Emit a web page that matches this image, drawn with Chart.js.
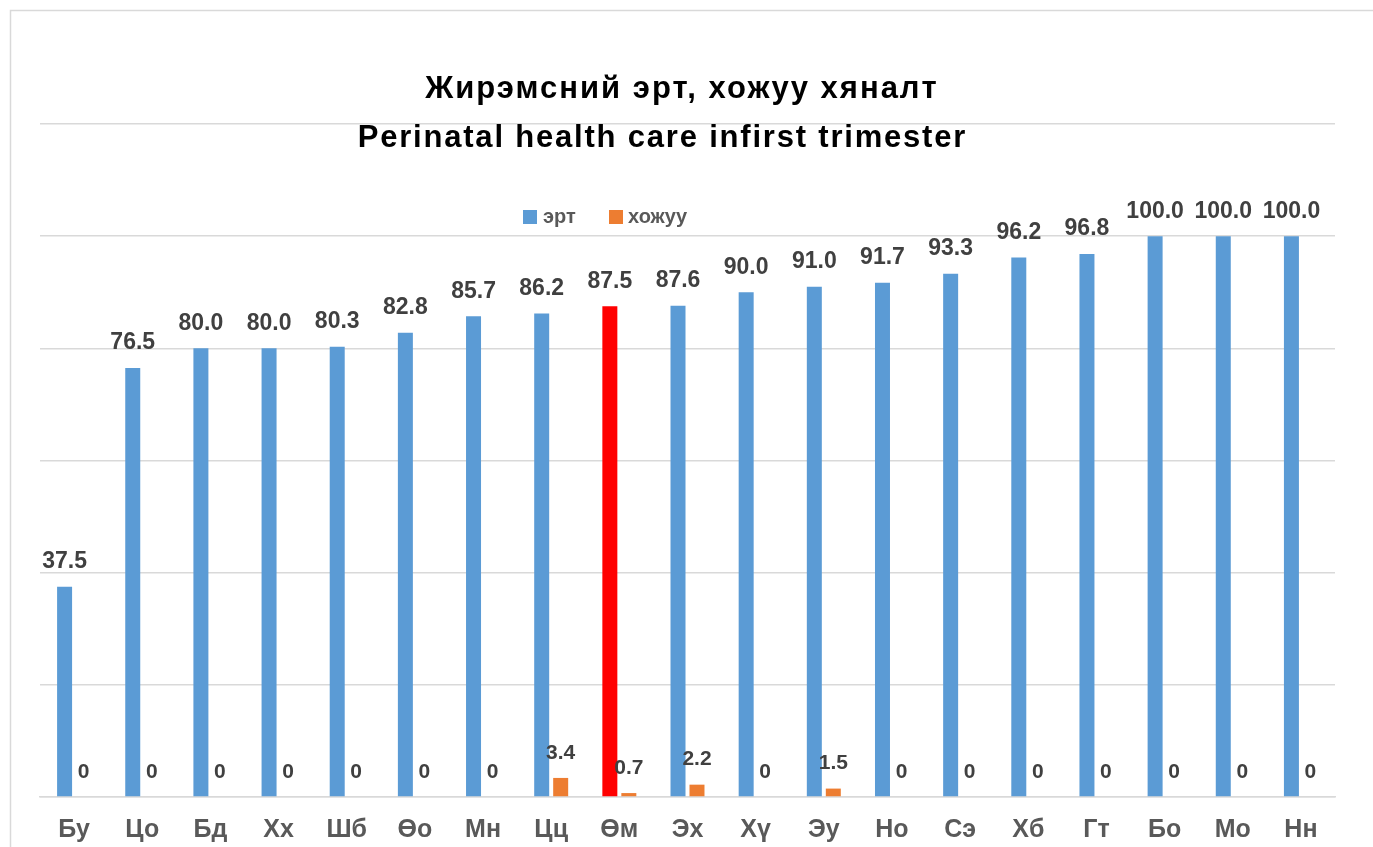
<!DOCTYPE html>
<html>
<head>
<meta charset="utf-8">
<script src="https://cdn.jsdelivr.net/npm/chart.js@4.4.1/dist/chart.umd.min.js"></script>
<style>
html,body{margin:0;padding:0;background:#fff;}
#wrap{position:absolute;left:0;top:0;width:1373px;height:847px;}
</style>
</head>
<body>
<div id="wrap"><canvas id="c" width="1373" height="847"></canvas></div>
<script>
const categories = ["Бу","Цо","Бд","Хх","Шб","Өо","Мн","Цц","Өм","Эх","Хү","Эу","Но","Сэ","Хб","Гт","Бо","Мо","Нн"];
const earlyValues = [37.5,76.5,80.0,80.0,80.3,82.8,85.7,86.2,87.5,87.6,90.0,91.0,91.7,93.3,96.2,96.8,100.0,100.0,100.0];
const lateValues = [0,0,0,0,0,0,0,3.4,0.7,2.2,0,1.5,0,0,0,0,0,0,0];
const seriesNames = ["эрт","хожуу"];
const titleLines = ["Жирэмсний эрт, хожуу хяналт","Perinatal health care infirst trimester"];
const highlightCategory = "Өм";

const BLUE = "#5b9bd5", ORANGE = "#ed7d31", RED = "#ff0000";
const FONT = "'Liberation Sans', Arial, sans-serif";

const earlyColors = categories.map(c => c === highlightCategory ? RED : BLUE);

const decor = {
  id: 'decor',
  beforeDraw(chart) {
    const ctx = chart.ctx;
    ctx.save();
    ctx.fillStyle = '#fff';
    ctx.fillRect(0, 0, chart.width, chart.height);
    ctx.strokeStyle = '#d9d9d9';
    ctx.lineWidth = 1.5;
    ctx.strokeRect(10.5, 10.5, 1400, 900);
    ctx.restore();
  },
  afterDraw(chart) {
    const ctx = chart.ctx;
    ctx.save();
    // title
    ctx.fillStyle = '#000';
    ctx.textAlign = 'left';
    ctx.textBaseline = 'alphabetic';
    ctx.font = "bold 31px " + FONT;
    ctx.letterSpacing = '2px';
    let w = ctx.measureText(titleLines[0]).width - 2;
    ctx.fillText(titleLines[0], 681 - w / 2, 98);
    ctx.letterSpacing = '1.8px';
    w = ctx.measureText(titleLines[1]).width - 1.8;
    ctx.fillText(titleLines[1], 661.5 - w / 2, 147);
    ctx.letterSpacing = '0px';
    // legend
    ctx.font = "bold 20px " + FONT;
    ctx.textAlign = 'left';
    ctx.textBaseline = 'middle';
    ctx.fillStyle = BLUE;
    ctx.fillRect(523, 210, 14, 14);
    ctx.fillStyle = '#595959';
    ctx.fillText(seriesNames[0], 543, 217);
    ctx.fillStyle = ORANGE;
    ctx.fillRect(609, 210, 14, 14);
    ctx.fillStyle = '#595959';
    ctx.fillText(seriesNames[1], 628, 217);
    // data labels
    ctx.textAlign = 'center';
    ctx.textBaseline = 'middle';
    ctx.fillStyle = '#404040';
    chart.data.datasets.forEach((ds, di) => {
      const meta = chart.getDatasetMeta(di);
      ctx.font = (di === 0 ? "bold 23px " : "bold 21px ") + FONT;
      meta.data.forEach((bar, i) => {
        const v = ds.data[i];
        const txt = di === 0 ? v.toFixed(1) : (v === 0 ? "0" : v.toFixed(1));
        ctx.fillText(txt, bar.x, bar.y - 25);
      });
    });
    ctx.restore();
  }
};

new Chart(document.getElementById('c'), {
  type: 'bar',
  data: {
    labels: categories,
    datasets: [
      { label: seriesNames[0], data: earlyValues, backgroundColor: earlyColors, barPercentage: 0.79, categoryPercentage: 0.557 },
      { label: seriesNames[1], data: lateValues, backgroundColor: ORANGE, barPercentage: 0.79, categoryPercentage: 0.557 }
    ]
  },
  options: {
    responsive: false,
    animation: false,
    devicePixelRatio: 1,
    layout: { padding: { top: 124, left: 40, right: 38, bottom: 0 } },
    plugins: { legend: { display: false }, title: { display: false }, tooltip: { enabled: false } },
    scales: {
      x: {
        afterFit(axis) { axis.height = 50; },
        grid: { display: false, drawTicks: false },
        border: { display: true, color: '#d9d9d9', width: 1.5 },
        ticks: { color: '#595959', font: { family: FONT, size: 25, weight: 'bold' }, padding: 18, maxRotation: 0, autoSkip: false }
      },
      y: {
        min: 0, max: 120,
        ticks: { display: false, stepSize: 20 },
        grid: { color: '#d9d9d9', lineWidth: 1.5, drawTicks: false },
        border: { display: false }
      }
    }
  },
  plugins: [decor]
});
</script>
</body>
</html>
